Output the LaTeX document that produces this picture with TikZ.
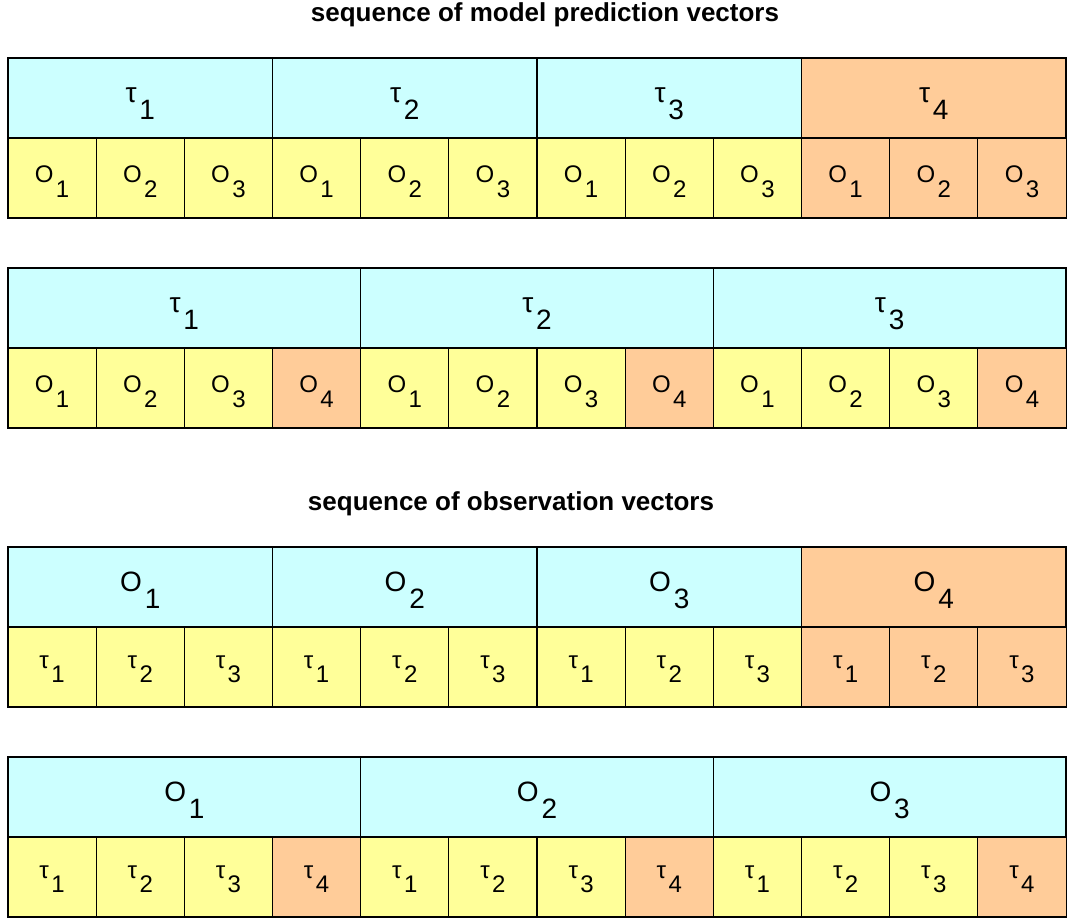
\documentclass[tikz,border=0pt]{standalone}
\usepackage{fontspec}
\setmainfont{Liberation Sans}
\definecolor{cellcyan}{HTML}{CCFFFF}
\definecolor{cellyellow}{HTML}{FFFF99}
\definecolor{cellorange}{HTML}{FFCC99}
\newcommand{\lbl}[2]{#1\kern0.1em\raisebox{-0.6em}{#2}}
\begin{document}
\begin{tikzpicture}[x=0.75pt,y=0.75pt,
  cell/.style={draw,line width=0.8pt,inner sep=0pt,outer sep=0pt,anchor=south west,minimum height=60pt,text height=14pt,text depth=7pt},
  headcell/.style={cell,font=\fontsize{21}{24}\selectfont},
  smallcell/.style={cell,minimum width=66.13pt,font=\fontsize{18}{21}\selectfont},
  smalltau/.style={smallcell,text height=10pt,text depth=8pt},
  title/.style={font=\fontsize{19.5}{22}\selectfont\bfseries}]
\useasboundingbox (0,0) rectangle (1067,920);
\node[title] (predtitle) at (545,905) {sequence of model prediction vectors};
\node[title] (obstitle) at (511,416) {sequence of observation vectors};
% predictions, three observations per state
\foreach \i in {1,...,4}{
  \ifnum\i>3 \def\c{cellorange}\else\def\c{cellcyan}\fi
  \node[headcell,minimum width=198.38pt,fill=\c] (pa\i) at ({8+(\i-1)*264.5},782) {\lbl{τ}{\i}};
}
\foreach \j in {1,...,12}{
  \pgfmathtruncatemacro\k{mod(\j-1,3)+1}
  \ifnum\j>9 \def\c{cellorange}\else\def\c{cellyellow}\fi
  \node[smallcell,fill=\c] (pb\j) at ({8+(\j-1)*88.17},702) {\lbl{O}{\k}};
}
% predictions, four observations per state
\foreach \i in {1,...,3}{
  \node[headcell,minimum width=264.5pt,fill=cellcyan] (qa\i) at ({8+(\i-1)*352.67},572) {\lbl{τ}{\i}};
}
\foreach \j in {1,...,12}{
  \pgfmathtruncatemacro\k{mod(\j-1,4)+1}
  \ifnum\k>3 \def\c{cellorange}\else\def\c{cellyellow}\fi
  \node[smallcell,fill=\c] (qb\j) at ({8+(\j-1)*88.17},492) {\lbl{O}{\k}};
}
% observations, three states per observation
\foreach \i in {1,...,4}{
  \ifnum\i>3 \def\c{cellorange}\else\def\c{cellcyan}\fi
  \node[headcell,minimum width=198.38pt,fill=\c] (oa\i) at ({8+(\i-1)*264.5},293) {\lbl{O}{\i}};
}
\foreach \j in {1,...,12}{
  \pgfmathtruncatemacro\k{mod(\j-1,3)+1}
  \ifnum\j>9 \def\c{cellorange}\else\def\c{cellyellow}\fi
  \node[smalltau,fill=\c] (ob\j) at ({8+(\j-1)*88.17},213) {\lbl{τ}{\k}};
}
% observations, four states per observation
\foreach \i in {1,...,3}{
  \node[headcell,minimum width=264.5pt,fill=cellcyan] (ra\i) at ({8+(\i-1)*352.67},83) {\lbl{O}{\i}};
}
\foreach \j in {1,...,12}{
  \pgfmathtruncatemacro\k{mod(\j-1,4)+1}
  \ifnum\k>3 \def\c{cellorange}\else\def\c{cellyellow}\fi
  \node[smalltau,fill=\c] (rb\j) at ({8+(\j-1)*88.17},3) {\lbl{τ}{\k}};
}
\end{tikzpicture}
\end{document}
